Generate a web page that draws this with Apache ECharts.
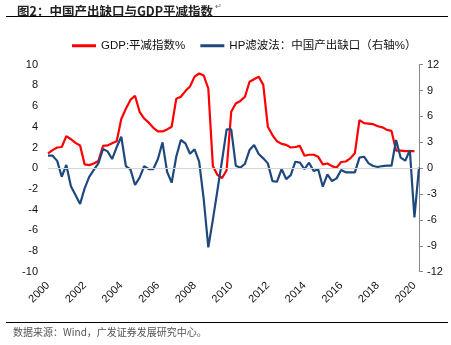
<!DOCTYPE html>
<html>
<head>
<meta charset="utf-8">
<script src="https://cdn.jsdelivr.net/npm/echarts@6/dist/echarts.min.js"></script>
<style>
html,body{margin:0;padding:0;background:#fff;}
#chart{width:451px;height:345px;}
</style>
</head>
<body>
<div id="chart"></div>
<script>
// Quarterly categories 2000Q1 .. 2020Q2
const years = [];
for (let y = 2000; y <= 2020; y++) years.push(y);
const categories = [];
years.forEach(y => { for (let q = 1; q <= 4; q++) { if (y === 2020 && q > 2) break; categories.push(y + 'Q' + q); } });

// GDP deflator, % (left axis)
const gdpDeflator = [
  1.43, 1.75, 2.0, 2.05, 3.1, 2.8, 2.45, 2.2,
  0.37, 0.3, 0.45, 0.7, 2.15, 2.2, 2.4, 2.6,
  4.75, 5.75, 6.6, 7.0, 5.45, 4.8, 4.4, 3.9,
  3.55, 3.55, 3.75, 4.0, 6.7, 6.9, 7.45, 7.9,
  8.85, 9.15, 8.95, 7.7, 0.2, -0.65, -0.95, -0.2,
  5.45, 6.25, 6.5, 6.9, 8.35, 8.6, 8.85, 8.05,
  4.0, 3.2, 2.6, 2.35, 2.25, 2.0, 2.05, 2.15,
  1.2, 1.3, 1.3, 1.1, 0.37, 0.45, 0.2, 0.05,
  0.6, 0.65, 0.95, 1.45, 4.65, 4.35, 4.3, 4.25,
  4.05, 3.95, 3.7, 3.6, 1.7, 1.7, 1.65, 1.65,
  1.65, null
];

// HP filter output gap, % (right axis)
const outputGap = [
  1.45, 1.45, 0.85, -0.99, 0.37, -2.1, -3.1, -4.15,
  -2.34, -1.0, -0.2, 0.56, 2.22, 1.95, 1.06, 2.45,
  3.65, 0.25, -0.14, -1.95, -1.1, 0.25, -0.1, -0.1,
  1.06, 3.0, -0.41, -1.68, 1.33, 3.27, 2.88, 1.68,
  2.18, 0.75, -3.6, -9.17, -5.97, -2.54, 0.89, 4.5,
  4.5, 0.29, 0.06, 0.52, 2.1, 2.69, 1.64, 1.14,
  0.56, -1.49, -1.57, -0.1, -1.26, -0.8, 0.75, 0.64,
  -0.1, 0.64, -0.33, -0.14, -2.14, -0.71, -1.49, -1.18,
  -0.21, -0.48, -0.48, -0.48, 1.22, 1.33, 0.56, 0.25,
  0.14, 0.25, 0.29, 0.29, 3.27, 1.22, 0.87, 2.1,
  -5.7, 0.06
];

const leftTicks = { min: -10, max: 10, interval: 2 };
const rightTicks = { min: -12, max: 12, interval: 3 };

const titleText = '图2：中国产出缺口与GDP平减指数';
const sourceText = '数据来源：Wind，广发证券发展研究中心。';
const seriesNames = ['GDP:平减指数%', 'HP滤波法：中国产出缺口（右轴%）'];

const chart = echarts.init(document.getElementById('chart'), null, { renderer: 'canvas' });
const sans = '"Liberation Sans", Arial, "Noto Sans CJK SC", sans-serif';
const cjk = '"Noto Sans CJK SC", sans-serif';

chart.setOption({
  animation: false,
  backgroundColor: '#fff',
  title: {
    text: titleText,
    left: 12, top: 0,
    textStyle: { fontSize: 12.5, fontWeight: 'bold', color: '#222', fontFamily: cjk }
  },
  graphic: [
    { type: 'line', shape: { x1: 6, y1: 16.5, x2: 448, y2: 16.5 }, style: { stroke: '#000', lineWidth: 1.2 } },
    { type: 'line', shape: { x1: 6, y1: 322.5, x2: 448, y2: 322.5 }, style: { stroke: '#000', lineWidth: 1.2 } },
    { type: 'text', left: 215, top: 3, style: { text: '↵', fontSize: 8, fill: '#666', fontFamily: sans } },
    { type: 'text', left: 13, top: 327, style: { text: sourceText, fontSize: 10, fill: '#555', fontFamily: cjk, letterSpacing: 1.2 } }
  ],
  legend: {
    data: seriesNames,
    left: 67, top: 35,
    icon: 'rect',
    itemWidth: 24, itemHeight: 3,
    itemGap: 15,
    textStyle: { fontSize: 11.5, color: '#111', fontFamily: sans }
  },
  grid: { left: 48, right: 32, top: 64.7, bottom: 73.3, containLabel: false },
  xAxis: {
    type: 'category',
    data: categories,
    boundaryGap: false,
    axisLine: { show: false },
    axisTick: { show: false },
    splitLine: { show: false },
    axisLabel: {
      interval: 7,
      rotate: 45,
      margin: 12,
      fontSize: 11,
      color: '#111',
      fontFamily: sans,
      formatter: v => v.slice(0, 4)
    }
  },
  yAxis: [
    {
      type: 'value',
      min: leftTicks.min, max: leftTicks.max, interval: leftTicks.interval,
      axisLine: { show: false },
      axisTick: { show: false },
      splitLine: { show: false },
      axisLabel: { fontSize: 11, color: '#111', fontFamily: sans, margin: 10 }
    },
    {
      type: 'value',
      position: 'right',
      min: rightTicks.min, max: rightTicks.max, interval: rightTicks.interval,
      axisLine: { show: true, lineStyle: { color: '#888', width: 1 } },
      axisTick: { show: true, length: 4, lineStyle: { color: '#888' } },
      splitLine: { show: false },
      axisLabel: { fontSize: 11, color: '#111', fontFamily: sans, margin: 8 }
    }
  ],
  series: [
    {
      name: seriesNames[0],
      type: 'line',
      yAxisIndex: 0,
      data: gdpDeflator,
      symbol: 'none',
      lineStyle: { color: '#ff0000', width: 2.2 },
      itemStyle: { color: '#ff0000' },
      markLine: {
        silent: true,
        symbol: 'none',
        label: { show: false },
        lineStyle: { color: '#d4d4d4', width: 1, type: 'solid' },
        data: [{ yAxis: 0 }]
      }
    },
    {
      name: seriesNames[1],
      type: 'line',
      yAxisIndex: 1,
      data: outputGap,
      symbol: 'none',
      lineStyle: { color: '#1f497d', width: 2.2 },
      itemStyle: { color: '#1f497d' }
    }
  ]
});
</script>
</body>
</html>
